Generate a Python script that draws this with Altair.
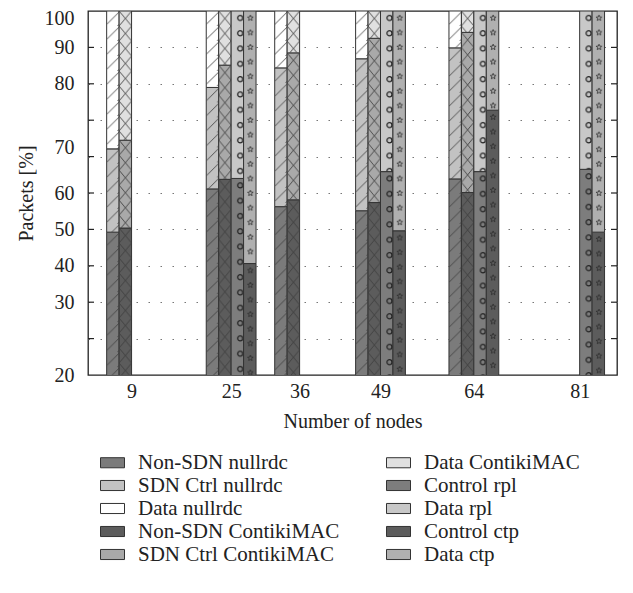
import math
import altair as alt
import pandas as pd
from urllib.parse import quote

# ---------------- data ----------------
nodes = [9, 25, 36, 49, 64, 81]

nonsdn_nullrdc = [51.4, 60.9, 57.0, 56.1, 63.1, None]
sdnctrl_nullrdc = [18.3, 22.3, 30.5, 33.4, 28.8, None]
data_nullrdc = [30.3, 16.8, 12.5, 10.5, 8.1, None]
nonsdn_contiki = [52.3, 63.0, 58.5, 57.9, 60.1, None]
sdnctrl_contiki = [19.3, 25.1, 32.3, 36.1, 35.2, None]
data_contiki = [28.4, 11.9, 9.2, 6.0, 4.7, None]
control_rpl = [None, 63.2, None, 64.7, 64.7, 65.2]
data_rpl = [None, 36.8, None, 35.3, 35.3, 34.8]
control_ctp = [None, 44.5, None, 51.7, 78.2, 51.4]
data_ctp = [None, 55.5, None, 48.3, 21.8, 48.6]

series_names = ["Non-SDN nullrdc", "SDN Ctrl nullrdc", "Data nullrdc",
                "Non-SDN ContikiMAC", "SDN Ctrl ContikiMAC", "Data ContikiMAC",
                "Control rpl", "Data rpl", "Control ctp", "Data ctp"]
series_values = [nonsdn_nullrdc, sdnctrl_nullrdc, data_nullrdc,
                 nonsdn_contiki, sdnctrl_contiki, data_contiki,
                 control_rpl, data_rpl, control_ctp, data_ctp]
series_stack = ["nullrdc"] * 3 + ["ContikiMAC"] * 3 + ["rpl"] * 2 + ["ctp"] * 2
stacks = ["nullrdc", "ContikiMAC", "rpl", "ctp"]

y_grid = [28, 36, 44, 52, 60, 68, 76, 84, 92]
y_label_pos = [100, 92, 84, 70, 60, 52, 44, 36, 20]
y_label_txt = ["100", "90", "80", "70", "60", "50", "40", "30", "20"]

# ---------------- styles ----------------
colors = {"Non-SDN nullrdc": "#7b7b7b", "SDN Ctrl nullrdc": "#c2c2c2", "Data nullrdc": "#ffffff",
          "Non-SDN ContikiMAC": "#5c5c5c", "SDN Ctrl ContikiMAC": "#a9a9a9", "Data ContikiMAC": "#e0e0e0",
          "Control rpl": "#7d7d7d", "Data rpl": "#c8c8c8", "Control ctp": "#5c5c5c", "Data ctp": "#b0b0b0"}

W, H = 529, 364
BW = W * 2 / 85.0


def svg_uri(inner, w, h):
    svg = ("<svg xmlns='http://www.w3.org/2000/svg' width='100%' height='100%'>"
           f"<defs><pattern id='p' width='{w:.3f}' height='{h:.3f}' patternUnits='userSpaceOnUse'>{inner}</pattern></defs>"
           "<rect width='100%' height='100%' fill='url(#p)'/></svg>")
    return "data:image/svg+xml;charset=utf-8," + quote(svg)


def star_path(cx, cy, ro, ri):
    pts = []
    for j in range(10):
        r = ro if j % 2 == 0 else ri
        a = -math.pi / 2 + j * math.pi / 5
        pts.append(f"{cx + r * math.cos(a):.2f},{cy + r * math.sin(a):.2f}")
    return "M" + " L".join(pts) + " Z"


hatch = svg_uri(f"<path d='M0,{BW+1:.2f} L{BW:.2f},1 M-3,3 L3,-3 M{BW-3:.2f},{BW+4:.2f} L{BW+3:.2f},{BW-2:.2f}' "
                "stroke='#3c3c3c' stroke-width='0.85' fill='none'/>", BW, 15)
cross = svg_uri(f"<path d='M0,0 L{BW:.2f},15 M0,15 L{BW:.2f},0' stroke='#3c3c3c' stroke-width='0.85' fill='none'/>", BW, 15)
circ = svg_uri(f"<circle cx='{BW*0.72:.2f}' cy='7' r='2.5' stroke='#222' stroke-width='1.2' fill='none'/>", BW, 15.3)
star = svg_uri(f"<path d='{star_path(BW*0.55, 7, 3.0, 1.3)}' stroke='#2a2a2a' stroke-width='0.8' fill='none'/>", BW, 14.6)
pattern_of = {"nullrdc": hatch, "ContikiMAC": cross, "rpl": circ, "ctp": star}

rows = []
for s_idx, st in enumerate(stacks):
    members = [k for k in range(len(series_names)) if series_stack[k] == st]
    for i, n in enumerate(nodes):
        base = 0.0
        for k in members:
            v = series_values[k][i]
            if v is None:
                continue
            rows.append(dict(series=series_names[k], nodes=n, slot=s_idx,
                             start=base, end=base + v, url=pattern_of[st]))
            base += v
df = pd.DataFrame(rows)
grid_df = pd.DataFrame({"v": y_grid})

xscale = alt.Scale(domain=[2, 87], nice=False, zero=False)
yscale = alt.Scale(domain=[20, 100], nice=False, zero=False)

label_expr = " : ".join(
    f"datum.value == {p} ? '{t}'" for p, t in zip(y_label_pos, y_label_txt)) + " : ''"
y_axis_vals = sorted(set(y_grid + y_label_pos))

x_axis = alt.Axis(values=nodes, title="Number of nodes", grid=False, ticks=False,
                  domain=False, labelPadding=6, titlePadding=10, format="d")
y_axis = alt.Axis(values=y_axis_vals, labelExpr=label_expr, title="Packets [%]",
                  grid=True, gridDash=[1.5, 10.5], gridColor="#777", gridWidth=1.2,
                  gridOpacity={"condition": {"test": "datum.value == 70 || datum.value == 20 || datum.value == 100",
                                             "value": 0}, "value": 1},
                  labelOffset={"condition": {"test": "datum.value == 100", "value": 7}, "value": 0},
                  ticks=False, domain=False, labelPadding=14, titlePadding=8)

base = alt.Chart(df).transform_calculate(
    x0="datum.nodes - 4 + 2 * datum.slot",
    x1="datum.nodes - 2 + 2 * datum.slot",
)

bars = base.mark_bar(clip=True, stroke="#333", strokeWidth=1, opacity=1).encode(
    x=alt.X("x0:Q", scale=xscale, axis=x_axis),
    x2="x1:Q",
    y=alt.Y("start:Q", scale=yscale, axis=y_axis),
    y2="end:Q",
    fill=alt.Fill("series:N",
                  scale=alt.Scale(domain=series_names, range=[colors[s] for s in series_names]),
                  legend=alt.Legend(title=None, orient="none", legendX=12, legendY=439, columns=2,
                                    columnPadding=44, rowPadding=0, padding=0,
                                    symbolType="M-1,-0.42H1V0.42H-1Z", symbolSize=576,
                                    symbolStrokeColor="#333", symbolStrokeWidth=1, symbolOpacity=1,
                                    labelFontSize=21, labelOffset=13, labelColor="#222",
                                    labelFont="Liberation Serif", labelLimit=400)),
)

patterns = base.mark_image(clip=True, aspect=False).encode(
    x=alt.X("x0:Q", scale=xscale, axis=x_axis),
    x2="x1:Q",
    y=alt.Y("end:Q", scale=yscale, axis=y_axis),
    y2="start:Q",
    url="url:N",
)

ticks_left = alt.Chart(grid_df).mark_rule(color="#222", strokeWidth=1.2).encode(
    y=alt.Y("v:Q", scale=yscale, axis=y_axis), x=alt.value(0), x2=alt.value(6))
ticks_right = alt.Chart(grid_df).mark_rule(color="#222", strokeWidth=1.2).encode(
    y=alt.Y("v:Q", scale=yscale, axis=y_axis), x=alt.value(W - 6), x2=alt.value(W))

chart = alt.layer(bars, patterns, ticks_left, ticks_right).properties(
    width=W, height=H,
    autosize=alt.AutoSizeParams(type="none"),
    padding={"left": 80, "top": 3, "right": 8, "bottom": 200},
).configure(
    font="Liberation Serif",
).configure_view(
    stroke="#222", strokeWidth=1.3,
).configure_axis(
    labelFontSize=20, titleFontSize=20, labelColor="#222", titleColor="#222",
    labelFont="Liberation Serif", titleFont="Liberation Serif", titleFontWeight="normal",
)

chart.save("out.html", embed_options={"renderer": "svg", "actions": False})
